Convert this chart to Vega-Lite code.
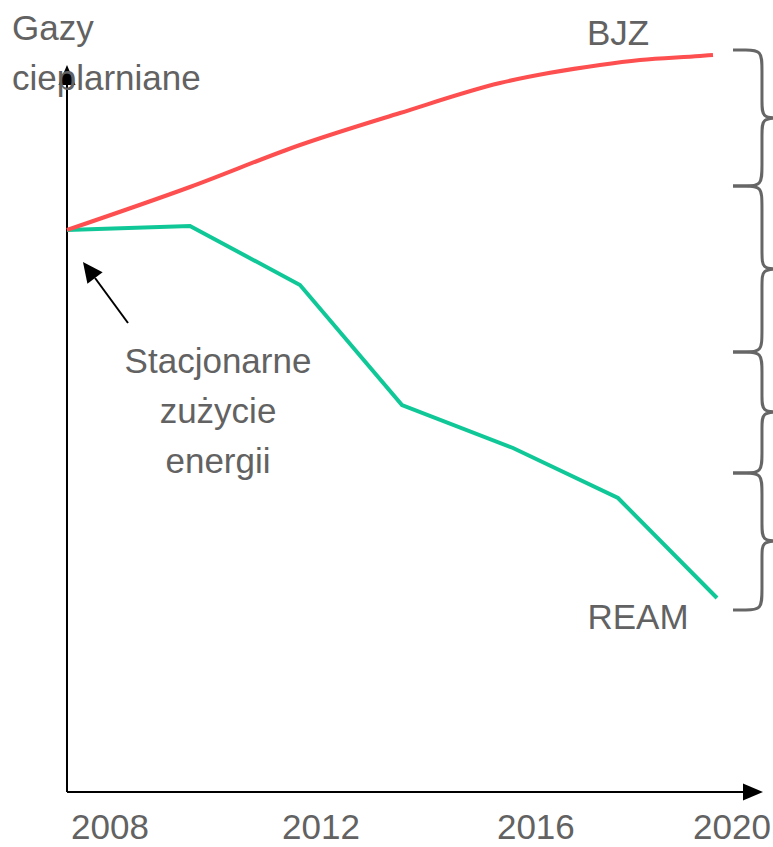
{
  "$schema": "https://vega.github.io/schema/vega-lite/v6.json",
  "width": 773,
  "height": 847,
  "padding": 0,
  "autosize": {"type": "none"},
  "background": "white",
  "config": {"view": {"stroke": null}},
  "datasets": {
    "lines": [
      {"series": "BJZ", "year": 2007.173, "value": 70.25},
      {"series": "BJZ", "year": 2009.538, "value": 75.625},
      {"series": "BJZ", "year": 2011.654, "value": 80.875},
      {"series": "BJZ", "year": 2013.577, "value": 84.875},
      {"series": "BJZ", "year": 2015.5, "value": 88.625},
      {"series": "BJZ", "year": 2017.423, "value": 90.875},
      {"series": "BJZ", "year": 2018.192, "value": 91.5},
      {"series": "BJZ", "year": 2019.346, "value": 92.0},
      {"series": "BJZ", "year": 2019.596, "value": 92.125},
      {"series": "REAM", "year": 2007.173, "value": 70.25},
      {"series": "REAM", "year": 2009.538, "value": 70.75},
      {"series": "REAM", "year": 2011.654, "value": 63.375},
      {"series": "REAM", "year": 2013.615, "value": 48.375},
      {"series": "REAM", "year": 2015.75, "value": 43.0},
      {"series": "REAM", "year": 2017.769, "value": 36.75},
      {"series": "REAM", "year": 2019.673, "value": 24.25}
    ],
    "braces": [
      {"brace": 1, "o": 1, "year": 2019.981, "value": 92.75},
      {"brace": 1, "o": 2, "year": 2020.212, "value": 92.75},
      {"brace": 1, "o": 3, "year": 2020.538, "value": 92.75},
      {"brace": 1, "o": 4, "year": 2020.538, "value": 90.5},
      {"brace": 1, "o": 5, "year": 2020.538, "value": 86},
      {"brace": 1, "o": 6, "year": 2020.538, "value": 84.25},
      {"brace": 1, "o": 7, "year": 2020.885, "value": 84.25},
      {"brace": 1, "o": 8, "year": 2020.885, "value": 84.25},
      {"brace": 1, "o": 9, "year": 2020.885, "value": 84.25},
      {"brace": 1, "o": 10, "year": 2020.538, "value": 84.25},
      {"brace": 1, "o": 11, "year": 2020.538, "value": 82.5},
      {"brace": 1, "o": 12, "year": 2020.538, "value": 78.0},
      {"brace": 1, "o": 13, "year": 2020.538, "value": 75.75},
      {"brace": 1, "o": 14, "year": 2020.212, "value": 75.75},
      {"brace": 1, "o": 15, "year": 2019.981, "value": 75.75},
      {"brace": 2, "o": 1, "year": 2019.981, "value": 75.75},
      {"brace": 2, "o": 2, "year": 2020.212, "value": 75.75},
      {"brace": 2, "o": 3, "year": 2020.538, "value": 75.75},
      {"brace": 2, "o": 4, "year": 2020.538, "value": 73.5},
      {"brace": 2, "o": 5, "year": 2020.538, "value": 67.125},
      {"brace": 2, "o": 6, "year": 2020.538, "value": 65.375},
      {"brace": 2, "o": 7, "year": 2020.885, "value": 65.375},
      {"brace": 2, "o": 8, "year": 2020.885, "value": 65.375},
      {"brace": 2, "o": 9, "year": 2020.885, "value": 65.375},
      {"brace": 2, "o": 10, "year": 2020.538, "value": 65.375},
      {"brace": 2, "o": 11, "year": 2020.538, "value": 63.625},
      {"brace": 2, "o": 12, "year": 2020.538, "value": 57.25},
      {"brace": 2, "o": 13, "year": 2020.538, "value": 55},
      {"brace": 2, "o": 14, "year": 2020.212, "value": 55},
      {"brace": 2, "o": 15, "year": 2019.981, "value": 55},
      {"brace": 3, "o": 1, "year": 2019.981, "value": 55},
      {"brace": 3, "o": 2, "year": 2020.212, "value": 55},
      {"brace": 3, "o": 3, "year": 2020.538, "value": 55},
      {"brace": 3, "o": 4, "year": 2020.538, "value": 52.75},
      {"brace": 3, "o": 5, "year": 2020.538, "value": 49.25},
      {"brace": 3, "o": 6, "year": 2020.538, "value": 47.5},
      {"brace": 3, "o": 7, "year": 2020.885, "value": 47.5},
      {"brace": 3, "o": 8, "year": 2020.885, "value": 47.5},
      {"brace": 3, "o": 9, "year": 2020.885, "value": 47.5},
      {"brace": 3, "o": 10, "year": 2020.538, "value": 47.5},
      {"brace": 3, "o": 11, "year": 2020.538, "value": 45.75},
      {"brace": 3, "o": 12, "year": 2020.538, "value": 42.125},
      {"brace": 3, "o": 13, "year": 2020.538, "value": 39.875},
      {"brace": 3, "o": 14, "year": 2020.212, "value": 39.875},
      {"brace": 3, "o": 15, "year": 2019.981, "value": 39.875},
      {"brace": 4, "o": 1, "year": 2019.981, "value": 39.875},
      {"brace": 4, "o": 2, "year": 2020.212, "value": 39.875},
      {"brace": 4, "o": 3, "year": 2020.538, "value": 39.875},
      {"brace": 4, "o": 4, "year": 2020.538, "value": 37.625},
      {"brace": 4, "o": 5, "year": 2020.538, "value": 33.125},
      {"brace": 4, "o": 6, "year": 2020.538, "value": 31.375},
      {"brace": 4, "o": 7, "year": 2020.885, "value": 31.375},
      {"brace": 4, "o": 8, "year": 2020.885, "value": 31.375},
      {"brace": 4, "o": 9, "year": 2020.885, "value": 31.375},
      {"brace": 4, "o": 10, "year": 2020.538, "value": 31.375},
      {"brace": 4, "o": 11, "year": 2020.538, "value": 29.625},
      {"brace": 4, "o": 12, "year": 2020.538, "value": 25.0},
      {"brace": 4, "o": 13, "year": 2020.538, "value": 22.75},
      {"brace": 4, "o": 14, "year": 2020.212, "value": 22.75},
      {"brace": 4, "o": 15, "year": 2019.981, "value": 22.75}
    ]
  },
  "layer": [
    {
      "data": {"values": [
        {"part": "y axis", "year": 2007.173, "value": 0, "year2": 2007.173, "value2": 88.5},
        {"part": "x axis", "year": 2007.173, "value": 0, "year2": 2020.2, "value2": 0},
        {"part": "pointer", "year": 2008.346, "value": 58.625, "year2": 2007.712, "value2": 64.25}
      ]},
      "mark": {"type": "rule", "color": "black", "strokeWidth": 2},
      "encoding": {
        "x": {"field": "year", "type": "quantitative", "scale": {"domain": [2005.8846, 2020.75], "nice": false, "zero": false}, "axis": null},
        "y": {"field": "value", "type": "quantitative", "scale": {"domain": [-6.875, 99], "nice": false, "zero": false}, "axis": null},
        "x2": {"field": "year2"},
        "y2": {"field": "value2"}
      }
    },
    {
      "data": {"values": [{"year": 2007.173, "value": 89.625}]},
      "mark": {"type": "point", "shape": "M0,-1L0.85,1L-0.85,1Z", "size": 400, "filled": true, "color": "black", "opacity": 1, "angle": 0},
      "encoding": {
        "x": {"field": "year", "type": "quantitative"},
        "y": {"field": "value", "type": "quantitative"}
      }
    },
    {
      "data": {"values": [{"year": 2020.365, "value": 0}]},
      "mark": {"type": "point", "shape": "M0,-1L0.85,1L-0.85,1Z", "size": 400, "filled": true, "color": "black", "opacity": 1, "angle": 90},
      "encoding": {
        "x": {"field": "year", "type": "quantitative"},
        "y": {"field": "value", "type": "quantitative"}
      }
    },
    {
      "data": {"values": [{"year": 2007.596, "value": 65.25}]},
      "mark": {"type": "point", "shape": "M0,-1L0.95,1L-0.95,1Z", "size": 400, "filled": true, "color": "black", "opacity": 1, "angle": -37},
      "encoding": {
        "x": {"field": "year", "type": "quantitative"},
        "y": {"field": "value", "type": "quantitative"}
      }
    },
    {
      "data": {"name": "braces"},
      "mark": {"type": "line", "color": "#666666", "strokeWidth": 3, "interpolate": "basis"},
      "encoding": {
        "x": {"field": "year", "type": "quantitative"},
        "y": {"field": "value", "type": "quantitative"},
        "detail": {"field": "brace", "type": "nominal"},
        "order": {"field": "o", "type": "quantitative"}
      }
    },
    {
      "data": {"name": "lines"},
      "transform": [{"filter": "datum.series === 'REAM'"}],
      "mark": {"type": "line", "color": "#10c897", "strokeWidth": 4},
      "encoding": {
        "x": {"field": "year", "type": "quantitative"},
        "y": {"field": "value", "type": "quantitative"}
      }
    },
    {
      "data": {"name": "lines"},
      "transform": [{"filter": "datum.series === 'BJZ'"}],
      "mark": {"type": "line", "color": "#fd4f4f", "strokeWidth": 4, "interpolate": "monotone"},
      "encoding": {
        "x": {"field": "year", "type": "quantitative"},
        "y": {"field": "value", "type": "quantitative"}
      }
    },
    {
      "data": {"values": [
        {"label": "Gazy", "year": 2006.115, "value": 94},
        {"label": "cieplarniane", "year": 2006.115, "value": 87.75}
      ]},
      "mark": {"type": "text", "align": "left", "baseline": "alphabetic", "font": "Liberation Sans, Arial, sans-serif", "fontSize": 35, "color": "#626262"},
      "encoding": {
        "x": {"field": "year", "type": "quantitative"},
        "y": {"field": "value", "type": "quantitative"},
        "text": {"field": "label"}
      }
    },
    {
      "data": {"values": [
        {"label": "BJZ", "year": 2017.769, "value": 93.375},
        {"label": "REAM", "year": 2018.154, "value": 20.375},
        {"label": "Stacjonarne", "year": 2010.077, "value": 52.375},
        {"label": "zużycie", "year": 2010.077, "value": 46.125},
        {"label": "energii", "year": 2010.077, "value": 39.875},
        {"label": "2008", "year": 2008, "value": -5.875},
        {"label": "2012", "year": 2012.058, "value": -5.875},
        {"label": "2016", "year": 2016.19, "value": -5.875},
        {"label": "2020", "year": 2019.96, "value": -5.875}
      ]},
      "mark": {"type": "text", "align": "center", "baseline": "alphabetic", "font": "Liberation Sans, Arial, sans-serif", "fontSize": 35, "color": "#626262"},
      "encoding": {
        "x": {"field": "year", "type": "quantitative"},
        "y": {"field": "value", "type": "quantitative"},
        "text": {"field": "label"}
      }
    }
  ]
}
